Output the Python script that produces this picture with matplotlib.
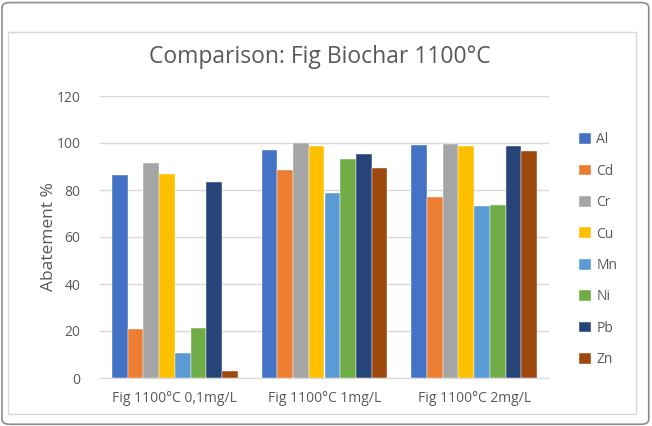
import numpy as np
import matplotlib
matplotlib.use("Agg")
import matplotlib.pyplot as plt
from matplotlib.patches import Rectangle, FancyBboxPatch

categories = ["Fig 1100°C 0,1mg/L", "Fig 1100°C 1mg/L", "Fig 1100°C 2mg/L"]
metals = ["Al", "Cd", "Cr", "Cu", "Mn", "Ni", "Pb", "Zn"]

al = [86.5, 97.2, 99.1]
cd = [21.0, 88.6, 77.2]
cr = [91.5, 99.8, 99.4]
cu = [86.8, 98.8, 98.7]
mn = [10.8, 78.6, 73.0]
ni = [21.4, 93.4, 73.6]
pb = [83.2, 95.3, 98.9]
zn = [3.0, 89.3, 96.4]

colors = ["#4472C4", "#ED7D31", "#A5A5A5", "#FFC000",
          "#5B9BD5", "#70AD47", "#264478", "#9E480E"]

plt.rcParams['font.family'] = ['Open Sans', 'DejaVu Sans']

fig = plt.figure(figsize=(6.52, 4.26), dpi=100)

# outer frame and chart area border
fig.patches.append(FancyBboxPatch((0.003, 0.004), 0.992, 0.99,
                                  boxstyle="round,pad=0,rounding_size=0.012",
                                  transform=fig.transFigure, fill=False,
                                  edgecolor="#8c8c8c", linewidth=1.2))
fig.patches.append(Rectangle((8 / 652, 12 / 426), 628 / 652, 382 / 426,
                             transform=fig.transFigure, fill=False,
                             edgecolor="#d9d9d9", linewidth=1.0))

ax = fig.add_axes([100 / 652, 48 / 426, 449 / 652, 282 / 426])

series = [al, cd, cr, cu, mn, ni, pb, zn]
x = np.arange(len(categories))
w = 0.105
for i, (vals, name) in enumerate(zip(series, metals)):
    ax.bar(x + (i - 3.5) * w, vals, w, color=colors[i], label=name,
           edgecolor="white", linewidth=0.3)

ax.set_xlim(-0.5, 2.5)
ax.set_ylim(0, 120)
ax.set_yticks(range(0, 121, 20))
ax.set_xticks(x)
ax.set_xticklabels(categories)
ax.grid(axis="y", color="#d9d9d9", linewidth=1)
ax.set_axisbelow(True)
for s in ["top", "right", "left"]:
    ax.spines[s].set_visible(False)
ax.spines["bottom"].set_color("#d9d9d9")
ax.tick_params(length=0, colors="#595959", labelsize=10)
ax.tick_params(axis="y", pad=14)
ax.tick_params(axis="x", pad=9)

ax.set_ylabel("Abatement %", fontsize=12.5, color="#595959", labelpad=0)
fig.text(320 / 652, 1 - 57 / 426, "Comparison: Fig Biochar 1100°C",
         ha="center", va="center", fontsize=16.5, color="#595959")

ax.legend(loc="upper left", bbox_to_anchor=(1.04, 0.915), frameon=False,
          handlelength=0.8, handleheight=0.8, handletextpad=0.4,
          labelspacing=1.18, fontsize=10, labelcolor="#595959")

fig.savefig("out.png", dpi=100)
